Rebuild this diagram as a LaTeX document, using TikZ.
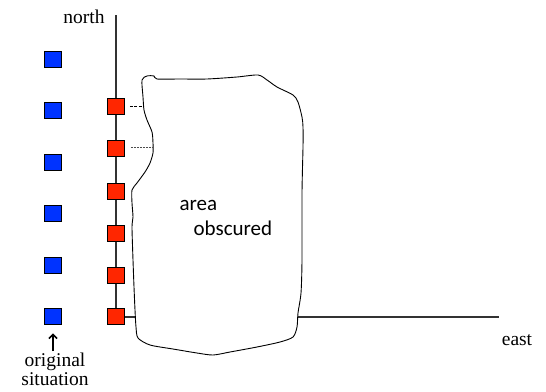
\documentclass[tikz,border=0pt]{standalone}
\usepackage{fontspec}
\setmainfont{Liberation Serif}
\setsansfont{Carlito}
\usetikzlibrary{arrows.meta}
\definecolor{sqred}{RGB}{255,38,0}
\definecolor{sqblue}{RGB}{0,51,255}
\definecolor{axisgray}{RGB}{50,50,50}
\begin{document}
\begin{tikzpicture}[x=1pt,y=-1pt,
  sq/.style={draw=black,line width=0.9pt,minimum width=17pt,minimum height=16pt,inner sep=0pt},
  redsq/.style={sq,fill=sqred},
  bluesq/.style={sq,fill=sqblue},
  axisline/.style={draw=axisgray,line width=1.3pt},
  serif/.style={font=\fontsize{19.5}{20}\selectfont},
  sanslbl/.style={font=\sffamily\fontsize{21}{22}\selectfont,anchor=base west},
  blob/.style={draw=black,fill=white,line width=0.9pt}]
\useasboundingbox (0,0) rectangle (546,391);
% axes
\coordinate (ntop) at (116,15);
\coordinate (origin) at (116,317);
\coordinate (eend) at (499,317);
\draw[axisline] (ntop) -- (origin) -- (eend);
% obscured area
\draw[blob] plot[smooth cycle,tension=0.45] coordinates {
 (142,80) (147,76) (154,76) (157,79) (180,79) (207,79) (237,77) (258,75)
 (267,80) (277,87) (293,95) (298,102) (302,117) (303,127) (303,147)
 (302,193) (302,260) (301,293) (298,313) (297,327) (293,337) (280,342)
 (257,347) (230,352) (213,355) (197,353) (173,349) (150,345) (138,338)
 (136,327) (135,310) (134,287) (133,260) (132,227) (133,217) (132,203)
 (132,190) (137,183) (145,172) (150,163) (153,153) (153,143) (152,132)
 (147,120) (144,110) (143,97)};
\node[sanslbl] (area) at (176,210) {area};
\node[sanslbl] (obsc) at (190,235) {obscured};
% red squares
\foreach \i/\y in {1/106,2/148,3/191,4/233,5/275,6/316}
  \node[redsq] (r\i) at (116,\y) {};
% blue squares
\foreach \i/\y in {1/59,2/110,3/162,4/213,5/265,6/316}
  \node[bluesq] (b\i) at (53,\y) {};
% dashed links
\coordinate (d1) at (143,106);
\coordinate (d2) at (153,147);
\draw[black,line width=0.8pt,dash pattern=on 3pt off 1.5pt,shorten <=5pt] (r1.east) -- (d1);
\draw[black!70,line width=0.8pt,dash pattern=on 2pt off 1pt,shorten <=6pt] (r2.east |- d2) -- (d2);
% labels
\node[serif,anchor=base] (north) at (84,23) {north};
\node[serif,anchor=base] (east) at (517,345) {east};
\node[serif,anchor=north,align=center,inner sep=0pt] (orig) at (55,353) {original\\[-1pt]situation};
\coordinate (astart) at (53,351);
\draw[line width=1.6pt,-{Straight Barb[length=4pt,width=8pt]},shorten >=9pt] (astart) -- (b6.south);
\end{tikzpicture}
\end{document}
